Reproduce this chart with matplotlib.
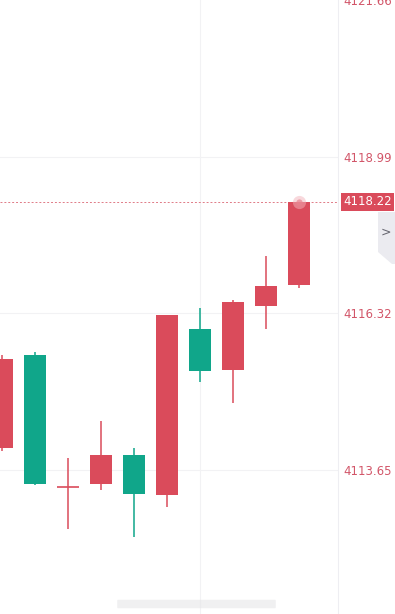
import matplotlib.pyplot as plt
from matplotlib.patches import Polygon, FancyBboxPatch

# candle data (oldest first)
opens = [4114.02, 4115.61, 4113.37, 4113.42, 4113.91, 4113.22, 4116.05, 4115.35, 4116.44, 4116.81]
closes = [4115.54, 4113.42, 4113.37, 4113.91, 4113.24, 4116.30, 4115.34, 4116.52, 4116.79, 4118.22]
highs = [4115.61, 4115.66, 4113.86, 4114.49, 4114.03, 4116.30, 4116.42, 4116.55, 4117.30, 4118.22]
lows = [4113.98, 4113.39, 4112.64, 4113.32, 4112.51, 4113.03, 4115.15, 4114.79, 4116.05, 4116.76]
price_ticks = [4113.65, 4116.32, 4118.99, 4121.66]
last_price = 4118.22

up_col = '#da4b5b'
down_col = '#10a68a'
label_col = '#d25669'

fig = plt.figure(figsize=(3.95, 6.14), dpi=100)
ax = fig.add_axes([0, 0, 338 / 395, 1])

xs = list(range(len(opens)))
for i in xs:
    o, c, h, l = opens[i], closes[i], highs[i], lows[i]
    col = up_col if c >= o else down_col
    ax.vlines(i, l, h, color=col, lw=1.1, zorder=3)
    if abs(c - o) < 0.01:
        ax.hlines(o, i - 0.32, i + 0.32, color=col, lw=1.2, zorder=3)
    else:
        ax.bar(i, abs(c - o), bottom=min(o, c), width=0.64, color=col, zorder=4)

ax.set_xlim(-0.06, 10.18)
ax.set_ylim(4111.20, 4121.60)

# grid
for p in price_ticks[:3]:
    ax.axhline(p, color='#f2f2f4', lw=0.8, zorder=0)
ax.axvline(6, color='#f2f2f4', lw=0.8, zorder=0)

# last price line and glow
ax.axhline(last_price, color='#e07a86', lw=0.7, ls=(0, (2, 2)), zorder=2)
ax.scatter([9], [last_price], s=90, color='#f3b3bb', alpha=0.5, zorder=5, lw=0)
ax.scatter([9], [last_price], s=20, color='#e8838f', alpha=0.7, zorder=5, lw=0)

ax.yaxis.tick_right()
ax.set_yticks(price_ticks)
ax.set_yticklabels([f'{p:.2f}' for p in price_ticks])
ax.tick_params(axis='y', length=0, pad=4, labelsize=8.5, labelcolor=label_col)
ax.set_xticks([])
for s in ['top', 'left', 'bottom']:
    ax.spines[s].set_visible(False)
ax.spines['right'].set_color('#eeeef2')
ax.spines['right'].set_linewidth(0.8)

# last price badge
ax.text(1.016, last_price, f'{last_price:.2f}', transform=ax.get_yaxis_transform(),
        ha='left', va='center', fontsize=8.5, color='white',
        bbox=dict(boxstyle='square,pad=0.2', fc=up_col, ec='none'), clip_on=False)

# side tab with arrow
W, H = 395, 614
tab = Polygon([(378 / W, 1 - 212 / H), (1, 1 - 212 / H), (1, 1 - 264 / H),
               (392 / W, 1 - 264 / H), (378 / W, 1 - 252 / H)],
              closed=True, transform=fig.transFigure, fc='#ebebf0', ec='none')
fig.patches.append(tab)
fig.text(386 / W, 1 - 232 / H, '>', ha='center', va='center', fontsize=9,
         color='#666670')

# faint blurred watermark strip at the bottom
wm = FancyBboxPatch((118 / W, 1 - 607 / H), 157 / W, 6 / H,
                    boxstyle='round,pad=0.002', transform=fig.transFigure,
                    fc='#e6e6e8', ec='none', alpha=0.6)
fig.patches.append(wm)

plt.savefig('out.png', dpi=100)
